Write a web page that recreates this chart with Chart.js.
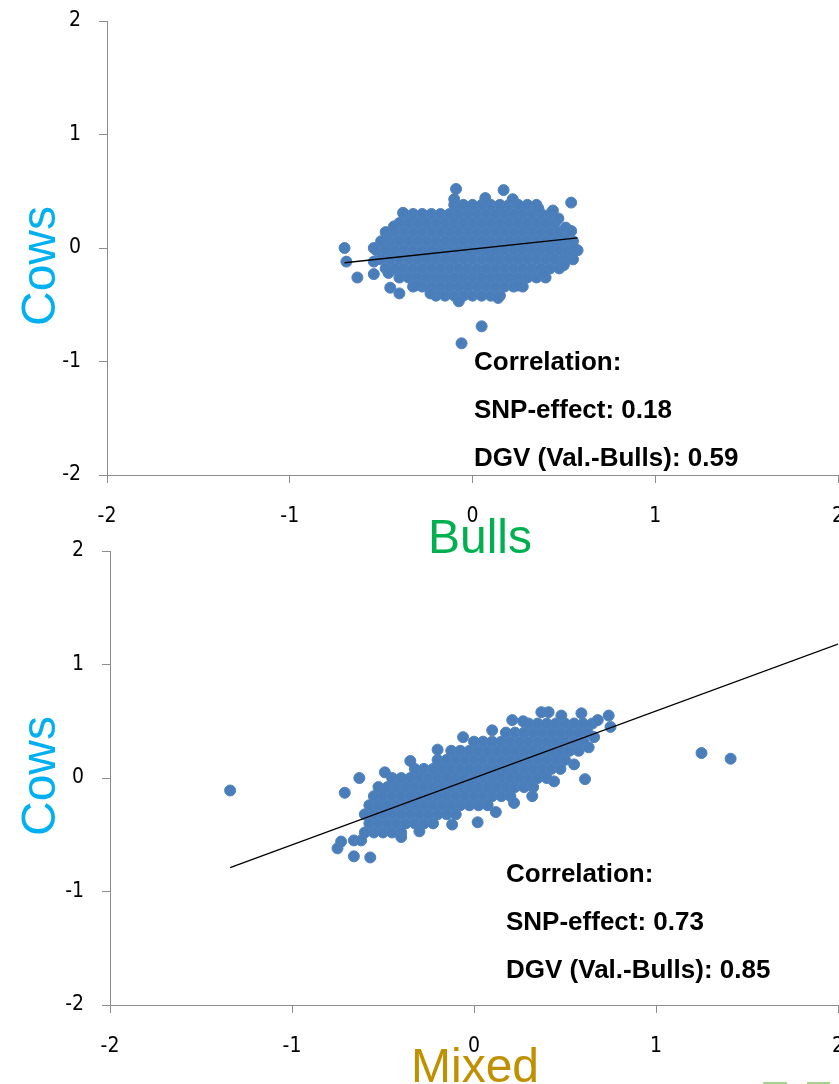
<!DOCTYPE html>
<html>
<head>
<meta charset="utf-8">
<script src="https://cdn.jsdelivr.net/npm/chart.js@4.4.1/dist/chart.umd.min.js"></script>
<style>
    html, body { margin: 0; padding: 0; background: #fff; overflow: hidden; width: 839px; height: 1084px; }
    .wrap { position: absolute; left: 0; width: 880px; }
    #boxTop { top: 0; height: 570px; }
    #boxBottom { top: 520px; height: 564px; }
    .deco { position: absolute; top: 1082px; height: 2px; background: #a9d18e; }
</style>
</head>
<body>
<div class="wrap" id="boxTop"><canvas id="chartTop"></canvas></div>
<div class="wrap" id="boxBottom"><canvas id="chartBottom"></canvas></div>
<div class="deco" style="left:763px;width:24px"></div>
<div class="deco" style="left:807px;width:23px"></div>
<script>
// axis ticks (both panels)
var axisTicks = [-2, -1, 0, 1, 2];

// Bulls (x) vs Cows (y): dense cloud read row by row [y, [x...]]
var bullsRows = [
    [0.38, [-0.10, -0.05, 0.00, 0.05, 0.10, 0.15, 0.20, 0.25, 0.30, 0.35]],
    [0.30, [-0.375, -0.325, -0.275, -0.225, -0.175, -0.125, -0.075, -0.025, 0.025, 0.075, 0.125, 0.175, 0.225, 0.275, 0.325, 0.375, 0.425]],
    [0.22, [-0.40, -0.35, -0.30, -0.25, -0.20, -0.15, -0.10, -0.05, 0.00, 0.05, 0.10, 0.15, 0.20, 0.25, 0.30, 0.35, 0.40, 0.45]],
    [0.14, [-0.475, -0.425, -0.375, -0.325, -0.275, -0.225, -0.175, -0.125, -0.075, -0.025, 0.025, 0.075, 0.125, 0.175, 0.225, 0.275, 0.325, 0.375, 0.425, 0.475, 0.525]],
    [0.06, [-0.50, -0.45, -0.40, -0.35, -0.30, -0.25, -0.20, -0.15, -0.10, -0.05, 0.00, 0.05, 0.10, 0.15, 0.20, 0.25, 0.30, 0.35, 0.40, 0.45, 0.50, 0.55]],
    [-0.02, [-0.525, -0.475, -0.425, -0.375, -0.325, -0.275, -0.225, -0.175, -0.125, -0.075, -0.025, 0.025, 0.075, 0.125, 0.175, 0.225, 0.275, 0.325, 0.375, 0.425, 0.475, 0.525, 0.575]],
    [-0.10, [-0.50, -0.45, -0.40, -0.35, -0.30, -0.25, -0.20, -0.15, -0.10, -0.05, 0.00, 0.05, 0.10, 0.15, 0.20, 0.25, 0.30, 0.35, 0.40, 0.45, 0.50, 0.55]],
    [-0.18, [-0.475, -0.425, -0.375, -0.325, -0.275, -0.225, -0.175, -0.125, -0.075, -0.025, 0.025, 0.075, 0.125, 0.175, 0.225, 0.275, 0.325, 0.375, 0.425, 0.475]],
    [-0.26, [-0.40, -0.35, -0.30, -0.25, -0.20, -0.15, -0.10, -0.05, 0.00, 0.05, 0.10, 0.15, 0.20, 0.25, 0.30, 0.35, 0.40]],
    [-0.34, [-0.325, -0.275, -0.225, -0.175, -0.125, -0.075, -0.025, 0.025, 0.075, 0.125, 0.175, 0.225, 0.275]],
    [-0.42, [-0.20, -0.15, -0.10, -0.05, 0.00, 0.05, 0.10, 0.15]]
];
// edge bumps and outliers [x, y]
var bullsEdge = [
    [-0.70, 0.00], [-0.69, -0.12], [-0.63, -0.26], [-0.54, -0.23], [-0.45, -0.35], [-0.40, -0.40],
    [-0.09, 0.52], [0.17, 0.51], [0.54, 0.40], [0.55, -0.04], [0.50, -0.15], [0.05, -0.69], [-0.06, -0.84],
    [-0.38, 0.31], [-0.43, 0.19], [-0.47, 0.09], [-0.54, 0.00], [-0.54, -0.12], [-0.10, 0.43], [0.07, 0.44],
    [0.22, 0.43], [0.36, 0.35], [0.44, 0.33], [0.47, 0.26], [0.51, 0.18], [0.54, 0.15], [0.555, 0.00],
    [0.39, -0.22], [0.25, -0.33], [0.14, -0.44], [-0.075, -0.47], [-0.23, -0.40], [-0.31, -0.33], [-0.46, -0.22]
];
var bullsFit = [[-0.70, -0.13], [0.575, 0.09]];

// Mixed (x) vs Cows (y)
var mixedRows = [
    [-0.48, [-0.60, -0.55, -0.50, -0.45, -0.40]],
    [-0.40, [-0.575, -0.525, -0.475, -0.425, -0.375, -0.325, -0.275, -0.225]],
    [-0.32, [-0.60, -0.55, -0.50, -0.45, -0.40, -0.35, -0.30, -0.25, -0.20, -0.15, -0.10]],
    [-0.24, [-0.575, -0.525, -0.475, -0.425, -0.375, -0.325, -0.275, -0.225, -0.175, -0.125, -0.075, -0.025, 0.025, 0.075]],
    [-0.16, [-0.55, -0.50, -0.45, -0.40, -0.35, -0.30, -0.25, -0.20, -0.15, -0.10, -0.05, 0.00, 0.05, 0.10, 0.15, 0.20]],
    [-0.08, [-0.525, -0.475, -0.425, -0.375, -0.325, -0.275, -0.225, -0.175, -0.125, -0.075, -0.025, 0.025, 0.075, 0.125, 0.175, 0.225, 0.275, 0.325]],
    [0.00, [-0.45, -0.40, -0.35, -0.30, -0.25, -0.20, -0.15, -0.10, -0.05, 0.00, 0.05, 0.10, 0.15, 0.20, 0.25, 0.30, 0.35, 0.40]],
    [0.08, [-0.325, -0.275, -0.225, -0.175, -0.125, -0.075, -0.025, 0.025, 0.075, 0.125, 0.175, 0.225, 0.275, 0.325, 0.375, 0.425, 0.475]],
    [0.16, [-0.20, -0.15, -0.10, -0.05, 0.00, 0.05, 0.10, 0.15, 0.20, 0.25, 0.30, 0.35, 0.40, 0.45, 0.50]],
    [0.24, [-0.125, -0.075, -0.025, 0.025, 0.075, 0.125, 0.175, 0.225, 0.275, 0.325, 0.375, 0.425, 0.475, 0.525, 0.575]],
    [0.32, [0.00, 0.05, 0.10, 0.15, 0.20, 0.25, 0.30, 0.35, 0.40, 0.45, 0.50, 0.55, 0.60]],
    [0.40, [0.175, 0.225, 0.275, 0.325, 0.375, 0.425, 0.475, 0.525, 0.575, 0.625]],
    [0.48, [0.30, 0.35, 0.40, 0.45, 0.50, 0.55, 0.60, 0.65]]
];
var mixedEdge = [
    [-1.34, -0.11], [-0.71, -0.13], [-0.63, 0.00], [-0.49, 0.05], [-0.73, -0.56], [-0.75, -0.62],
    [-0.66, -0.55], [-0.62, -0.55], [-0.66, -0.69], [-0.57, -0.70], [-0.06, 0.36], [-0.20, 0.25],
    [0.61, -0.01], [0.75, 0.45], [0.74, 0.55], [0.68, 0.51], [0.59, 0.57], [0.37, 0.58], [0.41, 0.58],
    [0.48, 0.55], [0.21, 0.51], [0.02, -0.39], [0.32, -0.16], [0.44, -0.03], [1.25, 0.22], [1.41, 0.17],
    [-0.35, 0.15], [0.10, 0.42], [0.27, 0.50], [0.55, 0.12], [0.63, 0.27], [0.66, 0.36],
    [-0.40, -0.52], [-0.30, -0.47], [-0.12, -0.41], [0.12, -0.30], [0.22, -0.22]
];
var mixedFit = [[-1.34, -0.79], [2.0, 1.18]];

var tickFont = { family: '"Liberation Sans Narrow", "DejaVu Sans Condensed", sans-serif', size: 21 };
var titleFont = '48px "Liberation Sans", Arial, sans-serif';
var noteFont = 'bold 26px "Liberation Sans", Arial, sans-serif';

function toPoints(rows, edge) {
    var pts = [];
    rows.forEach(function (row) {
        row[1].forEach(function (x) {
            pts.push({ x: x, y: row[0] });
        });
    });
    edge.forEach(function (p) {
        pts.push({ x: p[0], y: p[1] });
    });
    return pts;
}

// draws the slide texts (axis names and correlation notes)
var slideText = {
    id: 'slideText',
    afterDraw: function (chart) {
        var ctx = chart.ctx;
        chart.options.plugins.slideText.items.forEach(function (t) {
            ctx.save();
            ctx.font = t.font;
            ctx.fillStyle = t.color;
            ctx.textAlign = t.align || 'left';
            ctx.textBaseline = 'alphabetic';
            ctx.translate(t.x, t.y);
            if (t.rotate) ctx.rotate(t.rotate);
            ctx.fillText(t.text, 0, 0);
            ctx.restore();
        });
    }
};

function axisOptions(fit, padding) {
    return {
        type: 'linear',
        min: -2,
        max: 2,
        afterBuildTicks: function (scale) {
            scale.ticks = axisTicks.map(function (v) { return { value: v }; });
        },
        ticks: { color: '#000', font: tickFont, padding: padding },
        grid: { drawOnChartArea: false, drawTicks: true, tickLength: 8, color: '#8c8c8c' },
        border: { color: '#8c8c8c', width: 1 },
        afterFit: fit
    };
}

function renderPanel(canvasId, points, fit, padTop, xHeight, yWidth, texts) {
    var ctx = document.getElementById(canvasId).getContext('2d');
    return new Chart(ctx, {
        type: 'scatter',
        data: {
            datasets: [{
                data: fit.map(function (p) { return { x: p[0], y: p[1] }; }),
                showLine: true,
                borderColor: '#000',
                borderWidth: 1.3,
                pointRadius: 0
            }, {
                data: points,
                backgroundColor: '#4a7ebb',
                borderColor: '#4f81bd',
                borderWidth: 1,
                pointRadius: 5.5
            }]
        },
        options: {
            responsive: true,
            maintainAspectRatio: false,
            animation: false,
            layout: { padding: { top: padTop, right: 42, left: 0, bottom: 0 } },
            plugins: {
                legend: { display: false },
                tooltip: { enabled: false },
                slideText: { items: texts }
            },
            scales: {
                x: axisOptions(function (s) { s.height = xHeight; s.paddingTop = 0; s.paddingBottom = 0; }, 21),
                y: axisOptions(function (s) { s.width = yWidth; s.paddingTop = 0; s.paddingBottom = 0; }, 18)
            }
        },
        plugins: [slideText]
    });
}

function notes(x, y0, snp, dgv) {
    return [
        { text: 'Correlation:', x: x, y: y0, font: noteFont, color: '#000' },
        { text: 'SNP-effect: ' + snp, x: x, y: y0 + 48, font: noteFont, color: '#000' },
        { text: 'DGV (Val.-Bulls): ' + dgv, x: x, y: y0 + 96, font: noteFont, color: '#000' }
    ];
}

renderPanel('chartTop', toPoints(bullsRows, bullsEdge), bullsFit, 21, 95, 107, [
    { text: 'Cows', x: 55, y: 266, font: titleFont, color: '#00b0f0', align: 'center', rotate: -Math.PI / 2 },
    { text: 'Bulls', x: 480, y: 553, font: titleFont, color: '#00b050', align: 'center' }
].concat(notes(474, 370, '0.18', '0.59')));

renderPanel('chartBottom', toPoints(mixedRows, mixedEdge), mixedFit, 31, 79, 110, [
    { text: 'Cows', x: 55, y: 256, font: titleFont, color: '#00b0f0', align: 'center', rotate: -Math.PI / 2 },
    { text: 'Mixed', x: 475, y: 562, font: titleFont, color: '#bf9000', align: 'center' }
].concat(notes(506, 362, '0.73', '0.85')));
</script>
</body>
</html>
